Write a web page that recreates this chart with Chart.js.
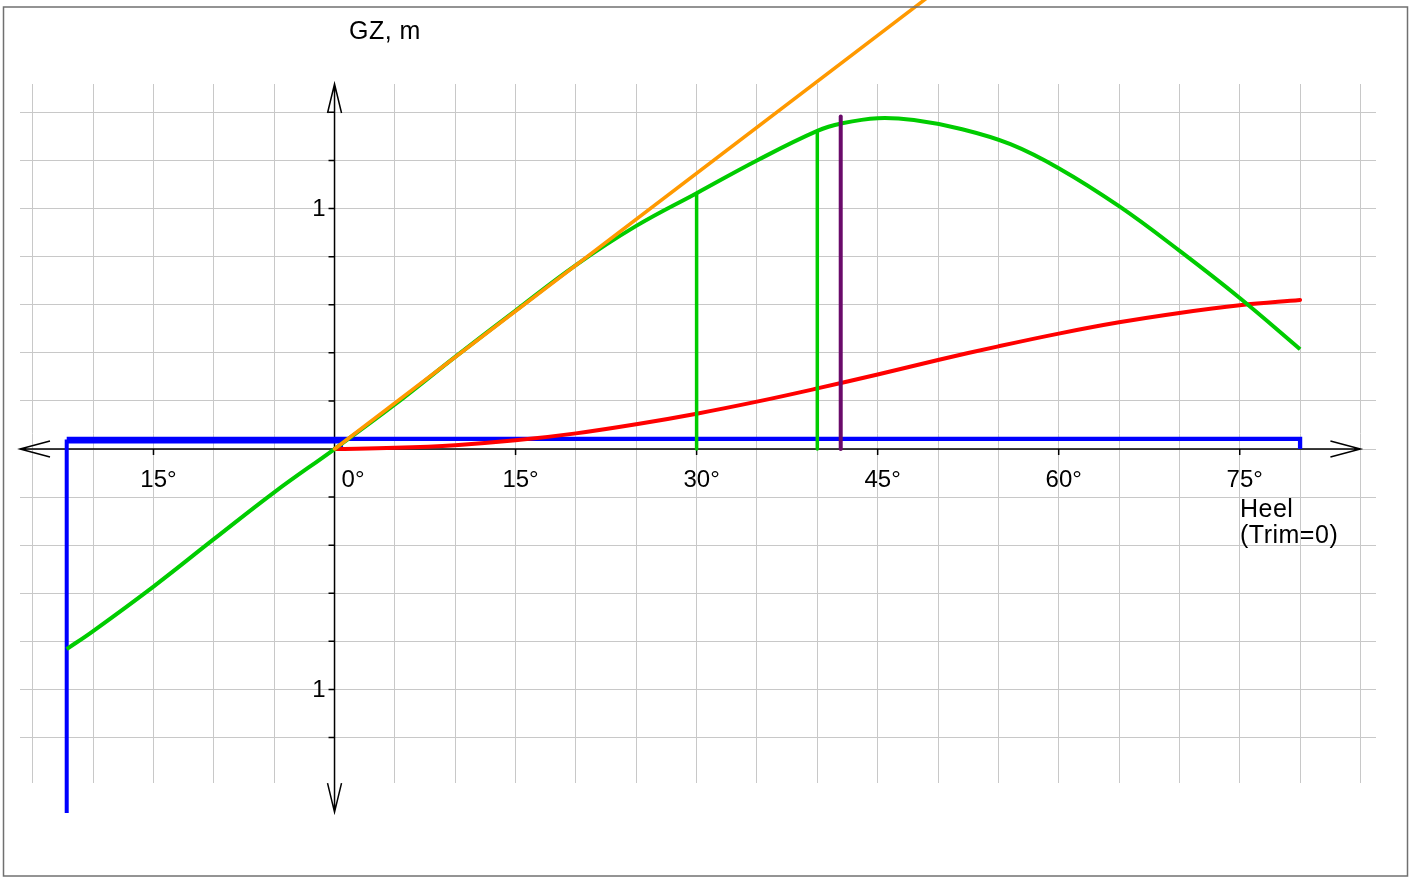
<!DOCTYPE html>
<html>
<head>
<meta charset="utf-8">
<script src="https://cdn.jsdelivr.net/npm/chart.js@4.4.0/dist/chart.umd.min.js"></script>
<style>
  body { margin: 0; background: #fff; }
</style>
</head>
<body>
<canvas id="gz" width="1410" height="877"></canvas>
<script>
// data (heel in degrees, arms in m)
const gzHeel = [-22.19, -20, -15, -10, -5, 0, 5, 10, 15, 20, 25, 30, 35, 40, 42, 45, 48, 52, 56, 60, 65, 70, 75, 80];
const gzValues = [-0.832, -0.757, -0.572, -0.375, -0.18, 0, 0.185, 0.383, 0.576, 0.765, 0.928, 1.064, 1.2, 1.323, 1.354, 1.376, 1.368, 1.33, 1.268, 1.168, 1.01, 0.825, 0.628, 0.415];

const armHeel = [0, 5, 10, 15, 20, 25, 30, 35, 40, 45, 50, 55, 60, 65, 70, 75, 80];
const armValues = [0, 0.005, 0.016, 0.036, 0.065, 0.103, 0.147, 0.197, 0.252, 0.31, 0.37, 0.427, 0.48, 0.527, 0.566, 0.598, 0.62];

// tangent at origin (GM at 57.3 deg)
const tangentHeel = [0, 57.3];
const tangentValues = [0, 2.19];

// wind / limit lines
const windHeel = [-22.19, 80, 80];
const windValues = [0.042, 0.042, 0];
const windLowHeel = [-22.19, -22.19, 0.54, 0.54];
const windLowValues = [-1.514, 0.031, 0.031, 0];

const markHeel = [30, 40];
const markValues = [1.064, 1.323];
const purpleHeel = 41.94;
const purpleTop = 1.383;

const xTickAngles = [-15, 0, 15, 30, 45, 60, 75];
const yTickLabels = [1, -1];
const xGrid = [];
for (let a = -25; a <= 85; a += 5) xGrid.push(a);
const yGrid = [];
for (let v = -6; v <= 7; v++) yGrid.push(v * 0.2);

const toPoints = (xs, ys) => xs.map((x, i) => ({ x: x, y: ys[i] }));

const FONT = '"Liberation Sans", Arial, sans-serif';

//ejes con flechas, textos y marco
const axesPlugin = {
  id: 'axesPlugin',
  beforeDatasetsDraw(chart) {
    const ctx = chart.ctx;
    const xs = chart.scales.x;
    const ys = chart.scales.y;
    const x0 = xs.getPixelForValue(0);
    const y0 = ys.getPixelForValue(0);
    const top = chart.chartArea.top;
    const bottom = ys.getPixelForValue(-1.51);
    const left = chart.chartArea.left;
    const right = xs.getPixelForValue(85);
    ctx.save();
    ctx.strokeStyle = '#000';
    ctx.lineWidth = 1.5;
    ctx.beginPath();
    ctx.moveTo(x0, top); ctx.lineTo(x0, bottom);
    ctx.moveTo(left, y0); ctx.lineTo(right, y0);
    // arrows
    ctx.moveTo(x0 - 7, top + 29); ctx.lineTo(x0, top); ctx.lineTo(x0 + 7, top + 29);
    ctx.moveTo(x0 - 7, bottom - 29); ctx.lineTo(x0, bottom); ctx.lineTo(x0 + 7, bottom - 29);
    ctx.moveTo(left + 30, y0 - 8); ctx.lineTo(left, y0); ctx.lineTo(left + 30, y0 + 8);
    ctx.moveTo(right - 30, y0 - 8); ctx.lineTo(right, y0); ctx.lineTo(right - 30, y0 + 8);
    // ticks
    yGrid.forEach((v) => {
      if (Math.abs(v) < 1e-6) return;
      const py = ys.getPixelForValue(v);
      ctx.moveTo(x0 - 6, py); ctx.lineTo(x0, py);
    });
    xTickAngles.forEach((a) => {
      if (a === 0) return;
      const px = xs.getPixelForValue(a);
      ctx.moveTo(px, y0); ctx.lineTo(px, y0 + 6);
    });
    ctx.stroke();
    ctx.restore();
  },
  afterDraw(chart) {
    const ctx = chart.ctx;
    const xs = chart.scales.x;
    const ys = chart.scales.y;
    const x0 = xs.getPixelForValue(0);
    const y0 = ys.getPixelForValue(0);
    ctx.save();
    ctx.fillStyle = '#000';
    ctx.font = '24px ' + FONT;
    ctx.textBaseline = 'alphabetic';
    xTickAngles.forEach((a) => {
      const px = xs.getPixelForValue(a);
      const label = Math.abs(a) + '°';
      if (a === 0) {
        ctx.textAlign = 'left';
        ctx.fillText(label, px + 7, y0 + 38);
      } else {
        ctx.textAlign = 'center';
        ctx.fillText(label, px + 5, y0 + 38);
      }
    });
    ctx.textAlign = 'right';
    ctx.textBaseline = 'middle';
    yTickLabels.forEach((v) => {
      ctx.fillText(String(Math.abs(v)), x0 - 9, ys.getPixelForValue(v) + 1);
    });
    ctx.font = '25px ' + FONT;
    ctx.letterSpacing = '0.5px';
    ctx.textAlign = 'left';
    ctx.textBaseline = 'alphabetic';
    ctx.fillText('GZ, m', 349, 39);
    ctx.fillText('Heel', 1240, 517);
    ctx.fillText('(Trim=0)', 1240, 543);
    ctx.letterSpacing = '0px';
    // frame
    ctx.strokeStyle = '#707070';
    ctx.lineWidth = 1.5;
    ctx.strokeRect(3.5, 7, 1404, 869);
    ctx.restore();
  }
};

const lineDs = (data, color, width, extra) => Object.assign({
  data: data,
  borderColor: color,
  borderWidth: width,
  showLine: true,
  pointRadius: 0,
  fill: false,
  clip: false,
  borderCapStyle: 'round',
  borderJoinStyle: 'miter',
  tension: 0
}, extra || {});

const datasets = [
  lineDs(toPoints(tangentHeel, tangentValues), '#ff9900', 3.5),
  lineDs([{ x: purpleHeel, y: 0 }, { x: purpleHeel, y: purpleTop }], '#6a0a6a', 4),
  lineDs([{ x: markHeel[0], y: 0 }, { x: markHeel[0], y: markValues[0] }], '#00cc00', 3.5),
  lineDs([{ x: markHeel[1], y: 0 }, { x: markHeel[1], y: markValues[1] }], '#00cc00', 3.5),
  lineDs(toPoints(gzHeel, gzValues), '#00cc00', 4, { tension: 0.4, borderCapStyle: 'butt' }),
  lineDs(toPoints(armHeel, armValues), '#ff0000', 4, { tension: 0.4 }),
  lineDs(toPoints(windHeel, windValues), '#0000ff', 4.3, { borderCapStyle: 'butt' }),
  lineDs(toPoints(windLowHeel, windLowValues), '#0000ff', 4, { borderCapStyle: 'butt' })
];

const chart = new Chart(document.getElementById('gz'), {
  type: 'scatter',
  data: { datasets: datasets },
  options: {
    responsive: false,
    animation: false,
    layout: { padding: { left: 20, right: 34, top: 84, bottom: 94 } },
    plugins: { legend: { display: false }, tooltip: { enabled: false } },
    scales: {
      x: {
        type: 'linear',
        min: -26.06,
        max: 86.29,
        afterBuildTicks: (scale) => { scale.ticks = xGrid.map((v) => ({ value: v })); },
        ticks: { display: false },
        border: { display: false },
        grid: { color: '#c8c8c8', lineWidth: 1, drawTicks: false }
      },
      y: {
        type: 'linear',
        min: -1.389,
        max: 1.518,
        afterBuildTicks: (scale) => { scale.ticks = yGrid.map((v) => ({ value: v })); },
        ticks: { display: false },
        border: { display: false },
        grid: { color: '#c8c8c8', lineWidth: 1, drawTicks: false }
      }
    }
  },
  plugins: [axesPlugin]
});
</script>
</body>
</html>
